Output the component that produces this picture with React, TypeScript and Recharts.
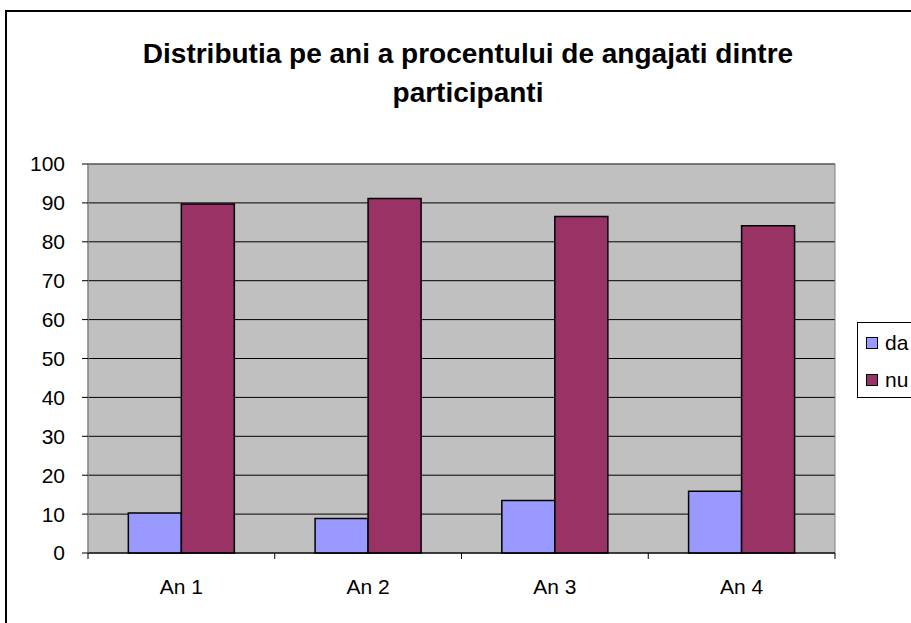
import { Bar, BarChart, CartesianGrid, ReferenceArea, XAxis, YAxis } from 'recharts';

const categories = ['An 1', 'An 2', 'An 3', 'An 4'];
const daValues = [10.3, 8.9, 13.5, 15.9];
const nuValues = [89.7, 91.1, 86.5, 84.1];
const yTicks = [0, 10, 20, 30, 40, 50, 60, 70, 80, 90, 100];
const series = [
  { key: 'da', name: 'da', color: '#9999FF' },
  { key: 'nu', name: 'nu', color: '#993366' },
];

const rows = categories.map((name, i) => ({ name, da: daValues[i], nu: nuValues[i] }));

const font = '"Liberation Sans", Arial, sans-serif';
const LABEL_GAP = 26;

// Excel puts the x tick marks between categories, not under them
function CategoryTick(props: any) {
  const { x, y, payload, index, visibleTicksCount } = props;
  const half = payload?.offset ?? 0;
  const axisY = y - LABEL_GAP;
  const isLast = index === visibleTicksCount - 1;
  return (
    <g>
      <line x1={x - half} x2={x - half} y1={axisY} y2={axisY + 6} stroke="#000" />
      {isLast && <line x1={x + half} x2={x + half} y1={axisY} y2={axisY + 6} stroke="#000" />}
      <text x={x} y={y} dy="0.71em" textAnchor="middle" fill="#000" fontSize={21} fontFamily={font}>
        {payload.value}
      </text>
    </g>
  );
}

export default function App() {
  return (
    <div
      style={{
        position: 'absolute',
        left: 0,
        top: 0,
        width: 911,
        height: 623,
        overflow: 'hidden',
        background: '#fff',
        fontFamily: font,
      }}
    >
      {/* chart area frame, clipped on the right and bottom like the source */}
      <div
        style={{
          position: 'absolute',
          left: 5,
          top: 10,
          width: 960,
          height: 700,
          border: '2px solid #000',
        }}
      />
      <div
        style={{
          position: 'absolute',
          left: 0,
          top: 34,
          width: 936,
          textAlign: 'center',
          fontSize: 28,
          fontWeight: 'bold',
          lineHeight: '39px',
          color: '#000',
        }}
      >
        Distributia pe ani a procentului de angajati dintre
        <br />
        participanti
      </div>

      <div style={{ position: 'absolute', left: 0, top: 0 }}>
        <BarChart
          width={911}
          height={623}
          data={rows}
          margin={{ top: 164, right: 76, bottom: 0, left: 0 }}
          barCategoryGap="21.6%"
          barGap={0}
        >
          <CartesianGrid vertical={false} fill="#C0C0C0" stroke="#000" strokeOpacity={1} />
          <XAxis
            dataKey="name"
            height={70}
            tickLine={false}
            tickSize={0}
            tickMargin={LABEL_GAP}
            interval={0}
            axisLine={{ stroke: '#000' }}
            tick={CategoryTick}
          />
          <YAxis
            domain={[0, 100]}
            ticks={yTicks}
            width={88}
            tickSize={6}
            tickMargin={17}
            axisLine={{ stroke: '#808080' }}
            tickLine={{ stroke: '#000' }}
            tick={{ fill: '#000', fontSize: 21, fontFamily: font }}
            interval={0}
          />
          <ReferenceArea
            x1={categories[0]}
            x2={categories[categories.length - 1]}
            y1={0}
            y2={100}
            fill="none"
            fillOpacity={0}
            stroke="#808080"
            strokeWidth={1}
          />
          {series.map((s) => (
            <Bar
              key={s.key}
              dataKey={s.key}
              name={s.name}
              fill={s.color}
              stroke="#000"
              strokeWidth={1.5}
              isAnimationActive={false}
            />
          ))}
        </BarChart>
      </div>

      {/* legend */}
      <div
        style={{
          position: 'absolute',
          left: 857,
          top: 322,
          width: 80,
          height: 74,
          border: '1px solid #000',
          background: '#fff',
        }}
      >
        {series.map((s, i) => (
          <div
            key={s.key}
            style={{
              position: 'absolute',
              left: 8,
              top: 8 + i * 37,
              height: 24,
              display: 'flex',
              alignItems: 'center',
              fontSize: 21,
              color: '#000',
              whiteSpace: 'nowrap',
            }}
          >
            <span
              style={{
                display: 'inline-block',
                width: 10,
                height: 10,
                background: s.color,
                border: '1px solid #000',
                marginRight: 7,
              }}
            />
            {s.name}
          </div>
        ))}
      </div>
    </div>
  );
}
